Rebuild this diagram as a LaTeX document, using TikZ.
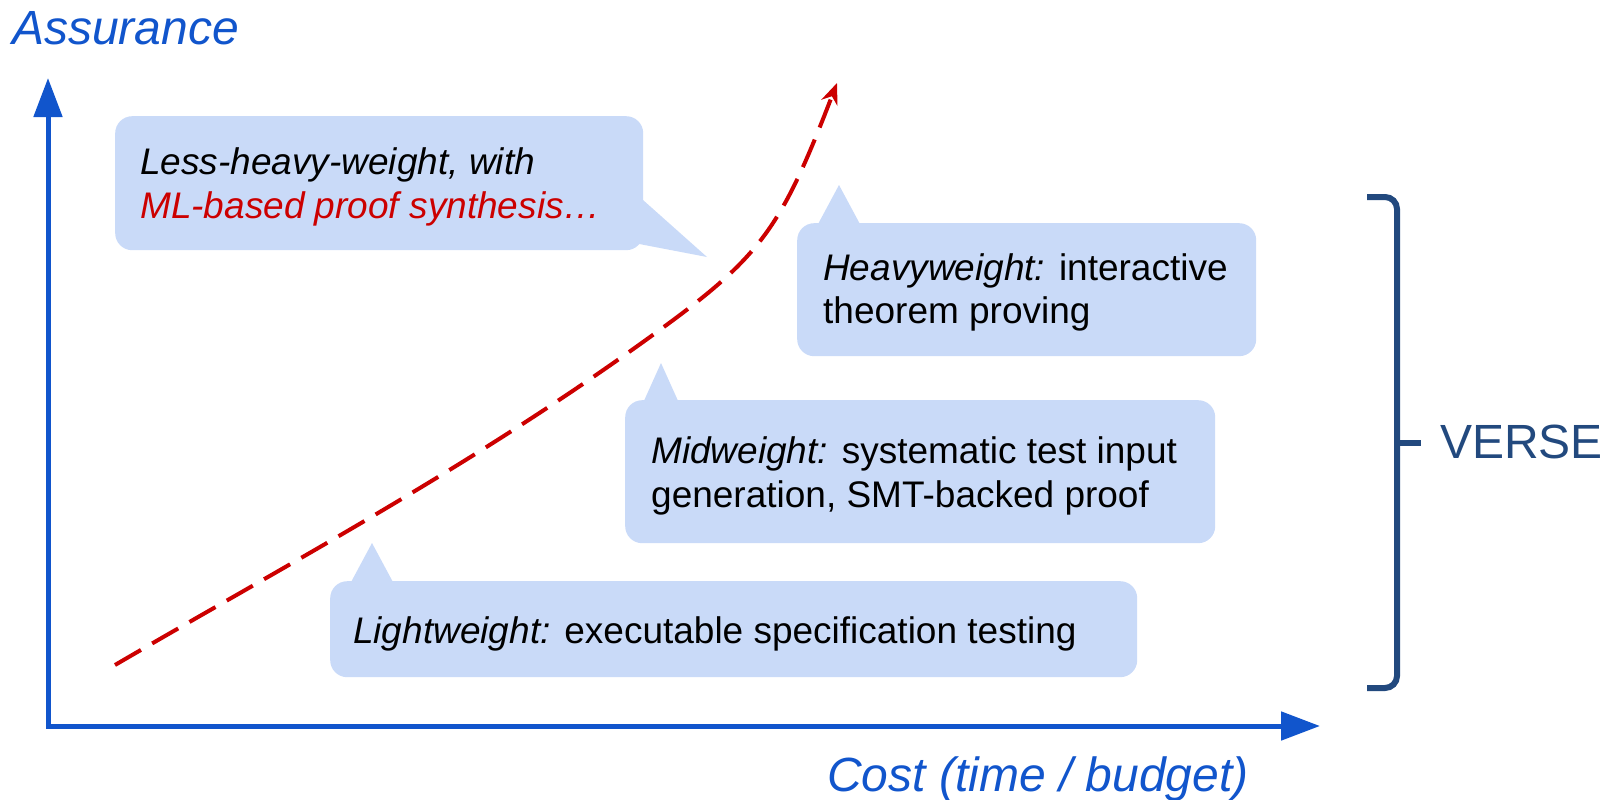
\documentclass[tikz,border=0pt]{standalone}
\usepackage{fontspec}
\setmainfont{Liberation Sans}
\usetikzlibrary{arrows.meta}
\definecolor{bubblefill}{HTML}{C9DAF8}
\definecolor{axisblue}{HTML}{1155CC}
\definecolor{curvered}{HTML}{CC0000}
\definecolor{bracketblue}{HTML}{22497E}
\begin{document}
\begin{tikzpicture}[x=1pt,y=-1pt,
  bubble/.style={fill=bubblefill, rounded corners=17pt, inner sep=0pt, anchor=north west},
  tailshape/.style={fill=bubblefill},
  bodytext/.style={font=\fontsize{37}{44}\selectfont, anchor=base west, inner sep=0pt},
  axislabel/.style={font=\fontsize{48}{58}\selectfont\itshape, text=axisblue, anchor=base west, inner sep=0pt},
  axisline/.style={draw=axisblue, line width=5pt, {Triangle[length=39pt,width=28pt]}-{Triangle[length=39pt,width=28pt]}},
  curveline/.style={draw=curvered, line width=4pt, dash pattern=on 30pt off 13pt, -{Stealth[length=21pt,width=17pt]}},
  bracketline/.style={draw=bracketblue, line width=6pt, rounded corners=12pt}]
\useasboundingbox (0,0) rectangle (1604,800);

% axes
\coordinate (origin) at (48,726);
\coordinate (ytip) at (48,78);
\coordinate (xtip) at (1320,726);
\draw[axisline] (ytip) -- (origin) -- (xtip);
\node[axislabel] (ylab) at (12,45) {Assurance};
\node[axislabel] (xlab) at (827,791) {Cost (time / budget)};

% bubbles
\fill[tailshape] (643,200) -- (707,257) -- (634,243) -- (625,240) -- cycle;
\node[bubble, minimum width=528pt, minimum height=134pt] (lhb) at (115,116) {};
\fill[tailshape] (817,226) -- (839,185) -- (861,226) -- cycle;
\node[bubble, minimum width=459pt, minimum height=133pt] (hb) at (797,223) {};
\fill[tailshape] (643,403) -- (661,363) -- (679,403) -- cycle;
\node[bubble, minimum width=590pt, minimum height=143pt] (mb) at (625,400) {};
\fill[tailshape] (350,584) -- (372,543) -- (394,584) -- cycle;
\node[bubble, minimum width=807pt, minimum height=96pt] (lb) at (330,581) {};

\node[bodytext] (lh1) at (140,174) {\itshape Less-heavy-weight, with};
\node[bodytext, text=curvered] (lh2) at (140,218) {\itshape ML-based proof synthesis…};
\node[bodytext] (h1) at (823,280) {\textit{Heavyweight:} interactive};
\node[bodytext] (h2) at (823,323) {theorem proving};
\node[bodytext] (m1) at (651,463) {\textit{Midweight:} systematic test input};
\node[bodytext] (m2) at (651,507) {generation, SMT-backed proof};
\node[bodytext] (l1) at (353,643) {\textit{Lightweight:} executable specification testing};

% curve
\coordinate (cstart) at (115,665);
\coordinate (cmid) at (650,337);
\coordinate (cend) at (837,83);
\draw[curveline] (cstart) .. controls (295,560) and (470,467) .. (cmid)
                          .. controls (761,257) and (780,231) .. (cend);

% bracket
\coordinate (b1) at (1367,197);
\coordinate (b2) at (1397,197);
\coordinate (b3) at (1397,688);
\coordinate (b4) at (1367,688);
\coordinate (t1) at (1397,443);
\coordinate (t2) at (1421,443);
\draw[bracketline] (b1) -- (b2) -- (b3) -- (b4);
\draw[bracketline] (t1) -- (t2);
\node[font=\fontsize{48}{58}\selectfont, text=bracketblue, anchor=base west, inner sep=0pt] (verse) at (1440,458) {VERSE};
\end{tikzpicture}
\end{document}
